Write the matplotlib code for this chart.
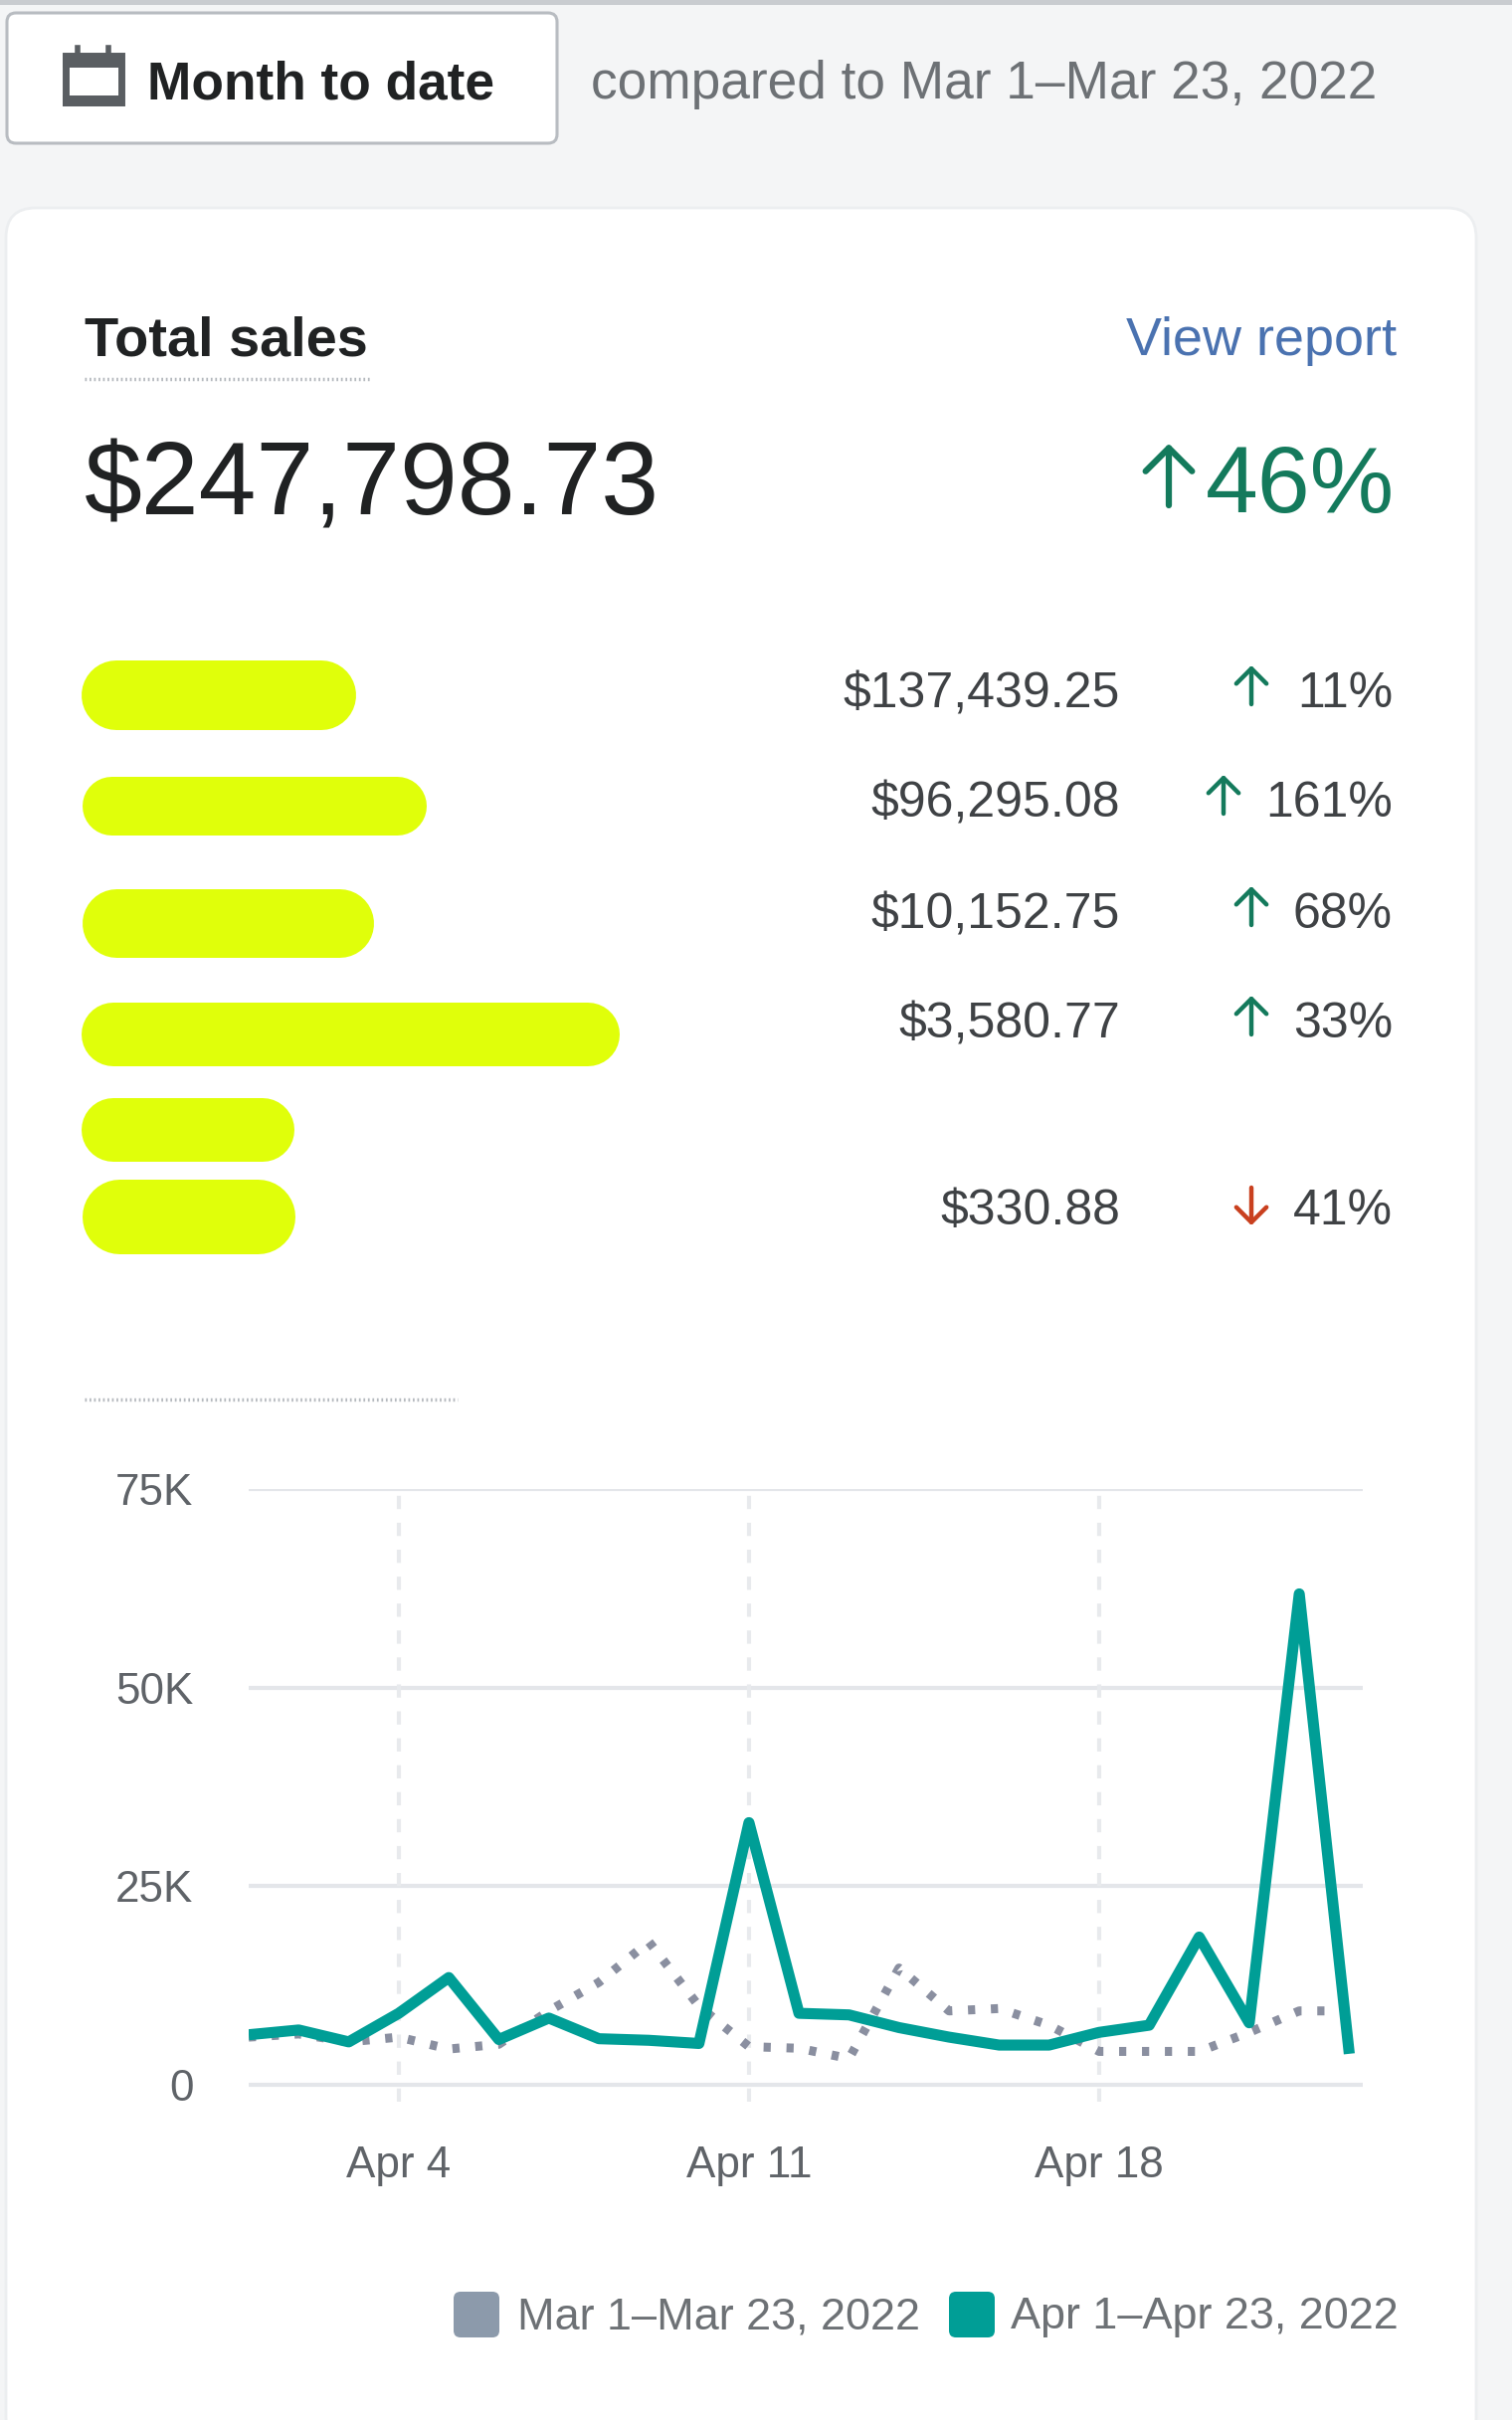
import matplotlib
matplotlib.use("Agg")
import matplotlib.pyplot as plt
from matplotlib.patches import FancyBboxPatch, Rectangle

# sales by day, Apr 1 - Apr 23 (thousands)
days = list(range(1, 24))
current = [6.3, 6.9, 5.4, 9.0, 13.5, 5.7, 8.4, 5.8, 5.6, 5.2, 33, 9, 8.8, 7.2, 6, 5, 5, 6.6, 7.5, 18.6, 7.8, 61.8, 3.9]
previous = [6.0, 6.4, 5.4, 6.0, 4.5, 5.1, 9.3, 12.9, 18, 9.9, 4.8, 4.6, 3.3, 14.7, 9.3, 9.6, 7.5, 4.2, 4.2, 4.2, 6.6, 9.3, 9.3]

y_ticks = [0, 25, 50, 75]
y_labels = ["0", "25K", "50K", "75K"]
x_ticks = [4, 11, 18]
x_labels = ["Apr 4", "Apr 11", "Apr 18"]

row_amounts = ["$137,439.25", "$96,295.08", "$10,152.75", "$3,580.77", "", "$330.88"]
row_changes = ["11%", "161%", "68%", "33%", "", "41%"]
row_up = [True, True, True, True, None, False]
row_text_y = [698, 808, 920, 1030, 0, 1218]
pill_widths = [276, 346, 293, 541, 214, 214]
pill_top = [664, 780, 893, 1008, 1104, 1185]
pill_bottom = [734, 839, 962, 1072, 1168, 1260]

plt.rcParams["font.family"] = ["Liberation Sans", "DejaVu Sans"]

BG = "#f4f5f6"
DARK = "#202223"
GREY = "#6d7175"
GREEN = "#147a5c"
RED = "#c9401f"
GRID = "#e4e6ea"
TEAL = "#009e96"
SLATE = "#8c9aab"
PILL = "#e0ff0a"

fig = plt.figure(figsize=(15.2, 24.33), dpi=100, facecolor=BG)

# page layer, in pixels
ui = fig.add_axes([0, 0, 1, 1])
ui.set_xlim(0, 1520)
ui.set_ylim(2433, 0)
ui.axis("off")


def px(h):
    return h * 0.72


def box(x0, y0, x1, y1, r, fc, ec="none", lw=0):
    ui.add_patch(FancyBboxPatch((x0 + r, y0 + r), x1 - x0 - 2 * r, y1 - y0 - 2 * r,
                                boxstyle=f"round,pad={r},rounding_size={r}",
                                fc=fc, ec=ec, lw=lw))


def arrow(x, y0, y1, color, lw, scale):
    ui.annotate("", xy=(x, y1), xytext=(x, y0),
                arrowprops=dict(arrowstyle="->,head_width=0.42,head_length=0.42", color=color,
                                lw=lw, mutation_scale=scale, shrinkA=0, shrinkB=0))


ui.add_patch(Rectangle((0, 0), 1520, 5, fc="#c9ccd0", ec="none"))

# date button
box(7, 13, 560, 144, 9, "white", "#b8bcc1", 2.2)
ui.add_patch(Rectangle((66, 56), 56, 47, fc="none", ec="#5a5e62", lw=5))
ui.add_patch(Rectangle((63, 54), 62, 14, fc="#5a5e62", ec="none"))
ui.add_patch(Rectangle((63, 96), 62, 11, fc="#5a5e62", ec="none"))
ui.plot([78, 78], [48, 56], color="#5a5e62", lw=4)
ui.plot([109, 109], [48, 56], color="#5a5e62", lw=4)
ui.text(148, 85, "Month to date", fontsize=px(53.3), color=DARK, weight="bold", va="center")
ui.text(594, 85, "compared to Mar 1\u2013Mar 23, 2022", fontsize=px(53.2), color=GREY, va="center")

# card
box(6, 209, 1484, 2460, 30, "white", "#eceef0", 2)

ui.text(85, 343, "Total sales", fontsize=px(56), color=DARK, weight="bold", va="center")
ui.plot([85, 372], [381, 381], color="#b5b9be", lw=2.5, ls=(0, (0.5, 0.8)))
ui.text(1404, 343, "View report", fontsize=px(54), color="#4a72b0", va="center", ha="right")
ui.text(85, 491, "$247,798.73", fontsize=px(104), color=DARK, va="center")
ui.text(1402, 491, "46%", fontsize=px(95), color=GREEN, va="center", ha="right")
arrow(1175, 508, 446, GREEN, 4.5, 40)

# rows
for w, t, b in zip(pill_widths, pill_top, pill_bottom):
    h = b - t
    ui.plot([82 + h / 2, 82 + w - h / 2], [(t + b) / 2, (t + b) / 2], color=PILL, lw=px(h), solid_capstyle="round")

for amount, change, up, y in zip(row_amounts, row_changes, row_up, row_text_y):
    if not amount:
        continue
    ui.text(1126, y, amount, fontsize=px(50), color="#3f4245", va="center", ha="right")
    ui.text(1400, y, change, fontsize=px(50), color="#3f4245", va="center", ha="right")
    ax_x = 1230 if len(change) == 4 else 1258
    if up:
        arrow(ax_x, y + 10, y - 29, GREEN, 3.2, 26)
    else:
        arrow(ax_x, y - 24, y + 14, RED, 3.2, 26)

ui.plot([85, 460], [1407, 1407], color="#b5b9be", lw=2.5, ls=(0, (0.5, 0.8)))

# chart: x 250-1370, y 1497-2096 in pixels
ax = fig.add_axes([250 / 1520, 1 - 2113 / 2433, 1120 / 1520, (2113 - 1497) / 2433])
ax.patch.set_alpha(0)
ax.set_xlim(1, 23.27)
ax.set_ylim(-2.13, 75)
for s in ax.spines.values():
    s.set_visible(False)
ax.set_yticks(y_ticks, y_labels)
ax.set_xticks(x_ticks, x_labels)
ax.tick_params(length=0, labelsize=px(44), labelcolor="#5f6368")
ax.tick_params(axis="x", pad=32)
ax.tick_params(axis="y", pad=40)
for t in y_ticks:
    ax.plot([1, 23.27], [t, t], color=GRID, lw=3, zorder=1)
for t in x_ticks:
    ax.axvline(t, color="#e8eaed", lw=3, ls=(0, (3.2, 3.3)), zorder=1)
ax.plot(days, previous, color="#8a8fa0", lw=6.5, ls=(0, (0.8, 1.75)), zorder=2)
ax.plot(days, current, color=TEAL, lw=8, zorder=3, solid_joinstyle="round", solid_capstyle="butt")

# legend
box(456, 2304, 502, 2350, 7, SLATE)
ui.text(520, 2330, "Mar 1\u2013Mar 23, 2022", fontsize=px(45), color=GREY, va="center")
box(954, 2304, 1000, 2350, 7, TEAL)
ui.text(1016, 2330, "Apr 1\u2013Apr 23, 2022", fontsize=px(45), color=GREY, va="center")

fig.savefig("out.png", dpi=100, facecolor=BG)
